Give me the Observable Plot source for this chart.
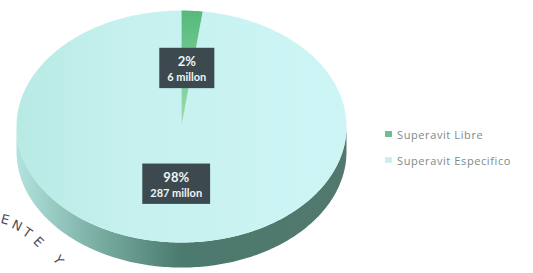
<!DOCTYPE html>
<html><head><meta charset="utf-8">
<script src="https://cdn.jsdelivr.net/npm/d3@7"></script>
<script src="https://cdn.jsdelivr.net/npm/@observablehq/plot@0.6"></script>
<style>
body{margin:0;background:#fff;}
#wrap{position:relative;width:533px;height:273px;overflow:hidden;}
#legend{position:absolute;left:385px;top:121px;font-family:"Open Sans",sans-serif;font-size:11px;letter-spacing:0.6px;color:#7c8b89;}
#legend .row{display:flex;align-items:center;height:26px;}
#legend .sw{width:7px;height:6px;margin-right:5px;}
.wm{position:absolute;font-family:"DejaVu Sans",sans-serif;font-size:13px;line-height:16px;color:#4d4d58;transform-origin:center;}
</style></head><body><div id="wrap"></div>
<script>
const categories = ["Superavit Libre", "Superavit Especifico"];
const values = [6, 287];
const percentLabels = ["2%", "98%"];
const valueLabels = ["6 millon", "287 millon"];
const colors = ["#6cc08f", "#c9eff0"];
const watermark = ["E", "N", "T", "E", "Y"];

const depth = 0.216;
const arcs = d3.pie().sort(null).value(d => d)(values);

function arcPoints(a0, a1, off) {
  const n = Math.max(2, Math.ceil((a1 - a0) / (Math.PI / 180)));
  const pts = [];
  for (let k = 0; k <= n; k++) {
    const a = a0 + (a1 - a0) * k / n;
    pts.push({x: Math.sin(a), y: Math.cos(a) - off});
  }
  return pts;
}
const slices = arcs.map((p, i) => [{x: 0, y: 0}, ...arcPoints(p.startAngle, p.endAngle, 0)].map(d => ({...d, i})));
const side = [];
arcs.forEach((p, i) => {
  const a0 = Math.max(p.startAngle, Math.PI / 2), a1 = Math.min(p.endAngle, 3 * Math.PI / 2);
  if (a1 > a0) {
    const top = arcPoints(a0, a1, 0), bot = arcPoints(a0, a1, depth).reverse();
    [...top, ...bot].forEach(d => side.push({...d, i}));
  }
});
const labels = arcs.map((p, i) => {
  const m = (p.startAngle + p.endAngle) / 2;
  return {x: 0.5 * Math.sin(m), y: 0.5 * Math.cos(m), pct: percentLabels[i], val: valueLabels[i]};
});

const chart = Plot.plot({
  width: 533, height: 273, margin: 0,
  x: {domain: [-1, 1], range: [16, 346], axis: null},
  y: {domain: [-1, 1], range: [242, 10], axis: null},
  marks: [
    Plot.line(side, {x: "x", y: "y", z: "i", fill: "url(#sideGrad)", stroke: "none", curve: "linear"}),
    Plot.line(slices[1], {x: "x", y: "y", fill: "url(#topGrad)", stroke: "none", curve: "linear"}),
    Plot.line(slices[0], {x: "x", y: "y", fill: "url(#greenGrad)", stroke: "none", curve: "linear"}),
    Plot.text(labels, {x: "x", y: "y", text: "pct", dy: -7, fontSize: 13, fontWeight: "bold", fill: "#f0f4f4", fontFamily: "Lato, sans-serif"}),
    Plot.text(labels, {x: "x", y: "y", text: "val", dy: 9, fontSize: 11, fontWeight: "bold", fill: "#f0f4f4", fontFamily: "Lato, sans-serif"})
  ]
});
const wrap = document.getElementById("wrap");
wrap.appendChild(chart);
const svg = d3.select(chart);
svg.insert("defs", ":first-child").html(`
  <linearGradient id="sideGrad" x1="0" x2="1" y1="0" y2="0">
    <stop offset="0" stop-color="#b3e3de"/><stop offset="0.22" stop-color="#7fb3a8"/>
    <stop offset="0.5" stop-color="#4b7a6e"/><stop offset="1" stop-color="#53786d"/>
  </linearGradient>
  <linearGradient id="topGrad" x1="0" x2="1" y1="0" y2="0">
    <stop offset="0" stop-color="#b8eae4"/><stop offset="0.35" stop-color="#c6f1ef"/><stop offset="1" stop-color="#cdf5f5"/>
  </linearGradient>
  <linearGradient id="greenGrad" x1="0" x2="0" y1="0" y2="1">
    <stop offset="0" stop-color="#55b97c"/><stop offset="1" stop-color="#9ddbb2"/>
  </linearGradient>`);
// label boxes, sized from the rendered text
const svgRect = chart.getBoundingClientRect();
const textGroups = chart.querySelectorAll('g[aria-label="text"]');
const pctT = textGroups[0].querySelectorAll("text"), valT = textGroups[1].querySelectorAll("text");
const boxLayer = svg.insert("g", 'g[aria-label="text"]');
labels.forEach((d, i) => {
  const a = pctT[i].getBoundingClientRect(), b = valT[i].getBoundingClientRect();
  const x0 = Math.min(a.left, b.left) - svgRect.left - 8, x1 = Math.max(a.right, b.right) - svgRect.left + 8;
  const y0 = Math.min(a.top, b.top) - svgRect.top - 5, y1 = Math.max(a.bottom, b.bottom) - svgRect.top + 5;
  boxLayer.append("rect").attr("x", x0).attr("y", y0).attr("width", x1 - x0).attr("height", y1 - y0).attr("fill", "#3c4a50");
});
// legend
const leg = document.createElement("div");
leg.id = "legend";
categories.forEach((c, i) => {
  const r = document.createElement("div"); r.className = "row";
  r.innerHTML = `<span class="sw" style="background:${colors[i]}"></span><span>${c}</span>`;
  leg.appendChild(r);
});
wrap.appendChild(leg);
// scanned watermark letters
const wmPos = [[5, 220, 15], [16, 226, 25], [27, 233, 35], [38, 242, 45], [58, 260, 58]];
watermark.forEach((ch, i) => {
  const s = document.createElement("span"); s.className = "wm"; s.textContent = ch;
  s.style.left = (wmPos[i][0] - 4.5) + "px"; s.style.top = (wmPos[i][1] - 8) + "px";
  s.style.transform = `rotate(${wmPos[i][2]}deg)`;
  wrap.appendChild(s);
});
</script></body></html>
